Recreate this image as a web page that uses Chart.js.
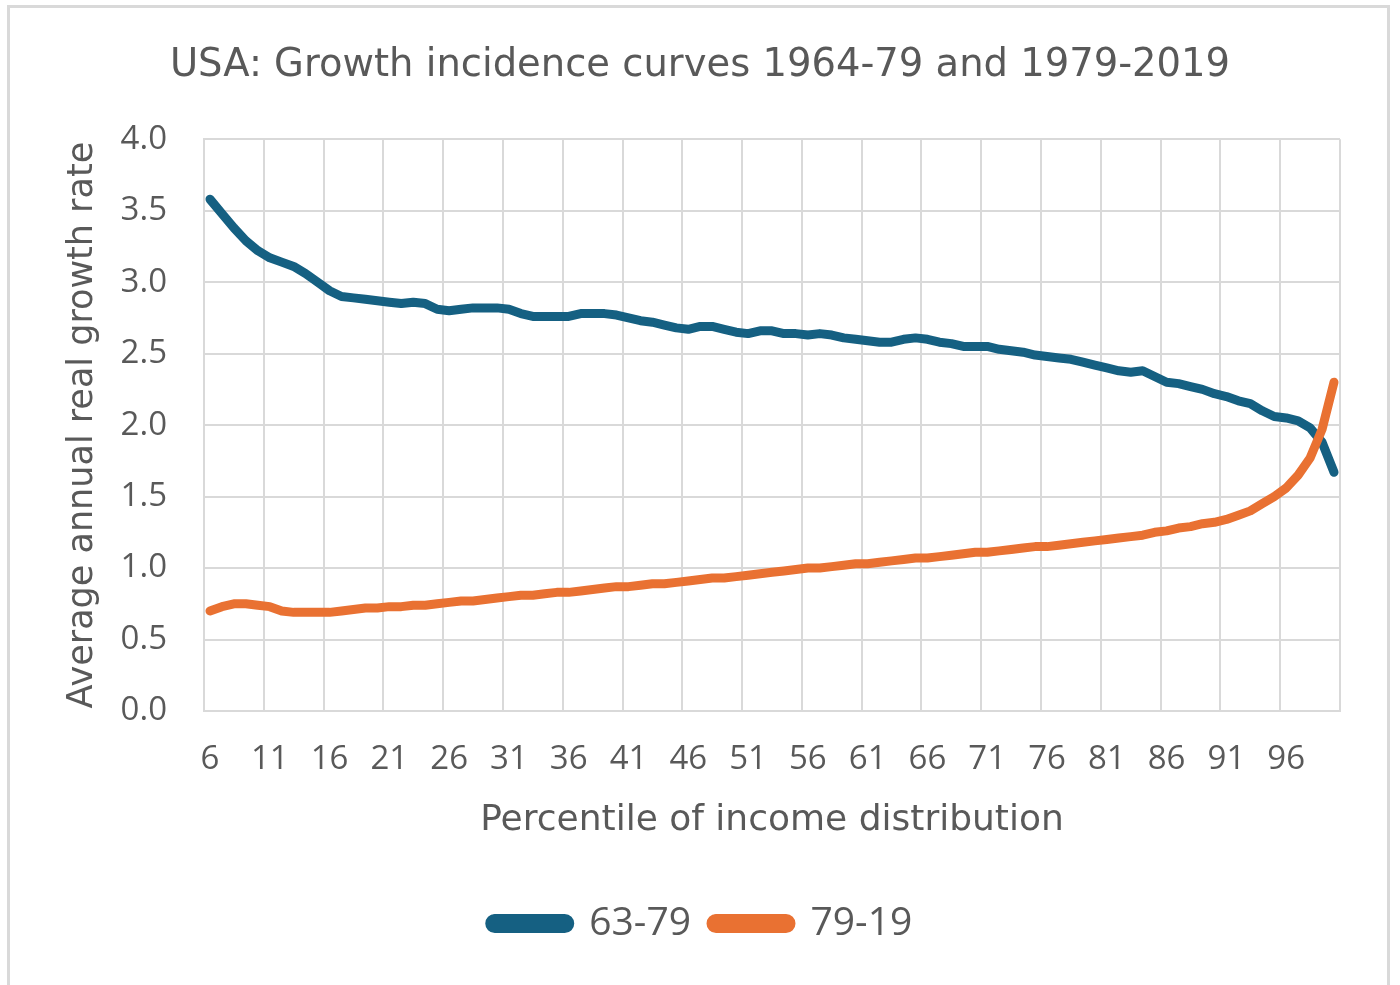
<!DOCTYPE html>
<html>
<head>
<meta charset="utf-8">
<title>USA: Growth incidence curves</title>
<script src="https://cdn.jsdelivr.net/npm/chart.js@4.4.1/dist/chart.umd.min.js"></script>
<style>
    html, body { margin: 0; padding: 0; background: #ffffff; }
    #frame {
        position: absolute; left: 7px; top: 5px;
        width: 1383px; height: 1000px;
        border: 3px solid #d9d9d9; box-sizing: border-box;
    }
    #wrap { position: absolute; left: 0; top: 0; width: 1400px; height: 985px; }
</style>
</head>
<body>
<div id="frame"></div>
<div id="wrap"><canvas id="gic"></canvas></div>
<script>
/**
 * 数据：收入分布百分位（6-100）
 */
const percentiles = [
    6, 7, 8, 9, 10, 11, 12, 13, 14, 15, 16, 17, 18, 19, 20,
    21, 22, 23, 24, 25, 26, 27, 28, 29, 30, 31, 32, 33, 34, 35,
    36, 37, 38, 39, 40, 41, 42, 43, 44, 45, 46, 47, 48, 49, 50,
    51, 52, 53, 54, 55, 56, 57, 58, 59, 60, 61, 62, 63, 64, 65,
    66, 67, 68, 69, 70, 71, 72, 73, 74, 75, 76, 77, 78, 79, 80,
    81, 82, 83, 84, 85, 86, 87, 88, 89, 90, 91, 92, 93, 94, 95,
    96, 97, 98, 99, 100,
];

// 1963-79 年均实际增长率
const growth6379 = [
    3.58, 3.48, 3.38, 3.29, 3.22, 3.17, 3.14, 3.11, 3.06, 3.00, 2.94, 2.90, 2.89, 2.88, 2.87,
    2.86, 2.85, 2.86, 2.85, 2.81, 2.80, 2.81, 2.82, 2.82, 2.82, 2.81, 2.78, 2.76, 2.76, 2.76,
    2.76, 2.78, 2.78, 2.78, 2.77, 2.75, 2.73, 2.72, 2.70, 2.68, 2.67, 2.69, 2.69, 2.67, 2.65,
    2.64, 2.66, 2.66, 2.64, 2.64, 2.63, 2.64, 2.63, 2.61, 2.60, 2.59, 2.58, 2.58, 2.60, 2.61,
    2.60, 2.58, 2.57, 2.55, 2.55, 2.55, 2.53, 2.52, 2.51, 2.49, 2.48, 2.47, 2.46, 2.44, 2.42,
    2.40, 2.38, 2.37, 2.38, 2.34, 2.30, 2.29, 2.27, 2.25, 2.22, 2.20, 2.17, 2.15, 2.10, 2.06,
    2.05, 2.03, 1.98, 1.88, 1.67,
];

// 1979-2019 年均实际增长率
const growth7919 = [
    0.70, 0.73, 0.75, 0.75, 0.74, 0.73, 0.70, 0.69, 0.69, 0.69, 0.69, 0.70, 0.71, 0.72, 0.72,
    0.73, 0.73, 0.74, 0.74, 0.75, 0.76, 0.77, 0.77, 0.78, 0.79, 0.80, 0.81, 0.81, 0.82, 0.83,
    0.83, 0.84, 0.85, 0.86, 0.87, 0.87, 0.88, 0.89, 0.89, 0.90, 0.91, 0.92, 0.93, 0.93, 0.94,
    0.95, 0.96, 0.97, 0.98, 0.99, 1.00, 1.00, 1.01, 1.02, 1.03, 1.03, 1.04, 1.05, 1.06, 1.07,
    1.07, 1.08, 1.09, 1.10, 1.11, 1.11, 1.12, 1.13, 1.14, 1.15, 1.15, 1.16, 1.17, 1.18, 1.19,
    1.20, 1.21, 1.22, 1.23, 1.25, 1.26, 1.28, 1.29, 1.31, 1.32, 1.34, 1.37, 1.40, 1.45, 1.50,
    1.56, 1.65, 1.77, 1.97, 2.30,
];

const seriesNames = ['63-79', '79-19'];
const yTicks = [0, 0.5, 1, 1.5, 2, 2.5, 3, 3.5, 4];
const labelEvery = 5;

const NUM_FONT = '"Open Sans", "Liberation Sans", sans-serif';
const WORD_FONT = '"DejaVu Sans", "Open Sans", sans-serif';
const TEXT = '#595959';
const GRID = '#d9d9d9';

// 标题和图例居中于整个画布，而不是只在绘图区上方
const centerBlocks = {
    id: 'centerBlocks',
    afterLayout(chart) {
        if (chart.titleBlock) { chart.titleBlock.left = 60; }
        if (chart.legend) { chart.legend.left = 62; }
    },
};

const ctx = document.getElementById('gic').getContext('2d');

new Chart(ctx, {
    type: 'line',
    data: {
        labels: percentiles.map(String),
        datasets: [
            {
                label: seriesNames[0],
                data: growth6379,
                borderColor: '#156082',
                backgroundColor: '#156082',
                order: 2,
            },
            {
                label: seriesNames[1],
                data: growth7919,
                borderColor: '#e97132',
                backgroundColor: '#e97132',
                order: 1,
            },
        ],
    },
    plugins: [centerBlocks],
    options: {
        responsive: true,
        maintainAspectRatio: false,
        animation: false,
        devicePixelRatio: 1,
        layout: { padding: { top: 8, left: 8, right: 60, bottom: 32 } },
        elements: {
            line: { borderWidth: 9, tension: 0, borderCapStyle: 'round', borderJoinStyle: 'round' },
            point: { radius: 0, hoverRadius: 0 },
        },
        plugins: {
            title: {
                display: true,
                text: 'USA: Growth incidence curves 1964-79 and 1979-2019',
                color: TEXT,
                font: { family: WORD_FONT, size: 38.5, weight: 'normal' },
                padding: { top: 35, bottom: 50 },
            },
            legend: {
                position: 'bottom',
                labels: {
                    color: TEXT,
                    font: { family: NUM_FONT, size: 39 },
                    boxWidth: 80,
                    boxHeight: 10,
                    padding: 20,
                    useBorderRadius: true,
                    borderRadius: 5,
                    sort: (a, b) => a.datasetIndex - b.datasetIndex,
                },
            },
            tooltip: { enabled: false },
        },
        scales: {
            x: {
                type: 'category',
                offset: true,
                grid: {
                    offset: true,
                    drawTicks: false,
                    lineWidth: 2,
                    color: (c) => (c.type !== 'tick' || c.index % labelEvery === 0 ? GRID : 'rgba(0,0,0,0)'),
                },
                border: { display: true, color: GRID, width: 2 },
                ticks: {
                    autoSkip: false,
                    maxRotation: 0,
                    padding: 29,
                    color: TEXT,
                    font: { family: NUM_FONT, size: 33 },
                    callback: (v, i) => (i % labelEvery === 0 ? percentiles[i] : ''),
                },
                title: {
                    display: true,
                    text: 'Percentile of income distribution',
                    color: TEXT,
                    font: { family: WORD_FONT, size: 36 },
                    padding: { top: 0, bottom: 42 },
                },
                afterFit: (scale) => { scale.height = 173; },
            },
            y: {
                min: 0,
                max: 4,
                afterBuildTicks: (scale) => { scale.ticks = yTicks.map((v) => ({ value: v })); },
                grid: { drawTicks: false, lineWidth: 2, color: GRID },
                border: { display: true, color: GRID, width: 2 },
                ticks: {
                    padding: 37,
                    color: TEXT,
                    font: { family: NUM_FONT, size: 33 },
                    callback: (v) => Number(v).toFixed(1),
                },
                title: {
                    display: true,
                    text: 'Average annual real growth rate',
                    color: TEXT,
                    font: { family: WORD_FONT, size: 35 },
                    padding: { top: 54, bottom: 0 },
                },
                afterFit: (scale) => { scale.width = 196; },
            },
        },
    },
});
</script>
</body>
</html>
